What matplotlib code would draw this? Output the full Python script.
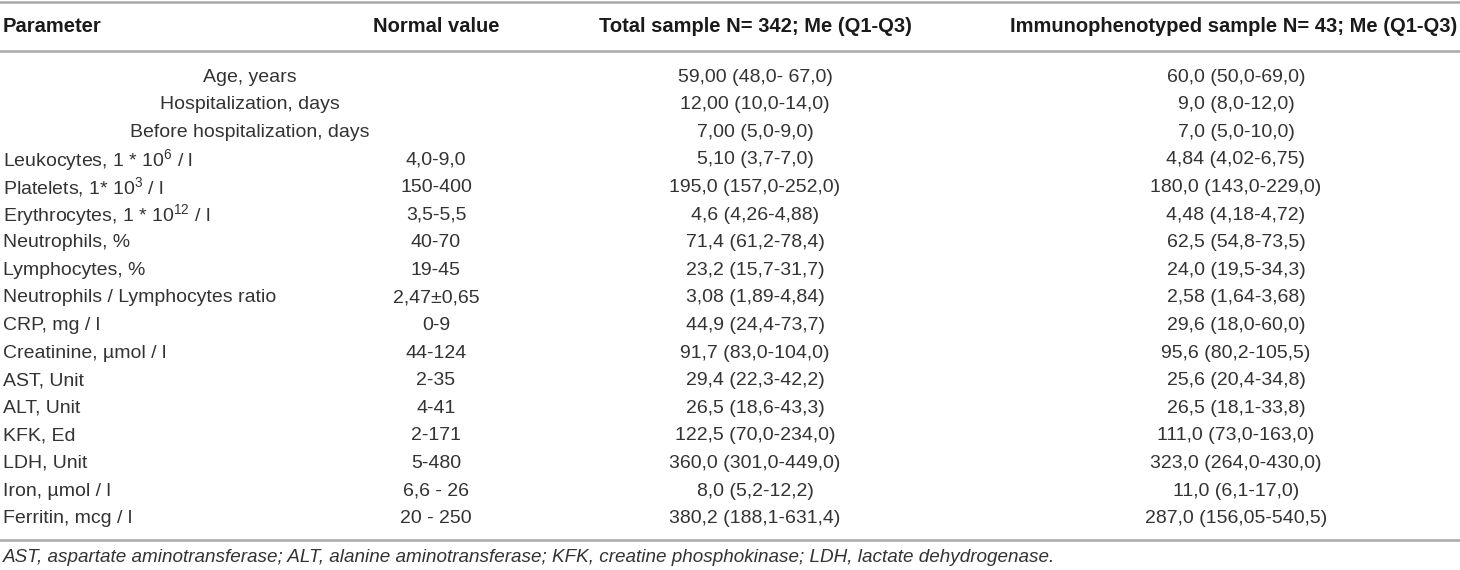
import matplotlib
matplotlib.use("Agg")
import matplotlib.pyplot as plt

plt.rcParams['font.family'] = ['Liberation Sans', 'DejaVu Sans']
plt.rcParams['mathtext.fontset'] = 'custom'
plt.rcParams['mathtext.rm'] = 'Liberation Sans'
plt.rcParams['mathtext.default'] = 'regular'

# table data
headers = ['Parameter', 'Normal value', 'Total sample N= 342; Me (Q1-Q3)',
           'Immunophenotyped sample N= 43; Me (Q1-Q3)']

parameters = ['Age, years', 'Hospitalization, days', 'Before hospitalization, days',
              'Leukocytes, 1 * 10$^{6}$ / l', 'Platelets, 1* 10$^{3}$ / l',
              'Erythrocytes, 1 * 10$^{12}$ / l', 'Neutrophils, %', 'Lymphocytes, %',
              'Neutrophils / Lymphocytes ratio', 'CRP, mg / l', 'Creatinine, µmol / l',
              'AST, Unit', 'ALT, Unit', 'KFK, Ed', 'LDH, Unit', 'Iron, µmol / l',
              'Ferritin, mcg / l']

normal_values = ['', '', '', '4,0-9,0', '150-400', '3,5-5,5', '40-70', '19-45',
                 '2,47±0,65', '0-9', '44-124', '2-35', '4-41', '2-171', '5-480',
                 '6,6 - 26', '20 - 250']

total_sample = ['59,00 (48,0- 67,0)', '12,00 (10,0-14,0)', '7,00 (5,0-9,0)',
                '5,10 (3,7-7,0)', '195,0 (157,0-252,0)', '4,6 (4,26-4,88)',
                '71,4 (61,2-78,4)', '23,2 (15,7-31,7)', '3,08 (1,89-4,84)',
                '44,9 (24,4-73,7)', '91,7 (83,0-104,0)', '29,4 (22,3-42,2)',
                '26,5 (18,6-43,3)', '122,5 (70,0-234,0)', '360,0 (301,0-449,0)',
                '8,0 (5,2-12,2)', '380,2 (188,1-631,4)']

immuno_sample = ['60,0 (50,0-69,0)', '9,0 (8,0-12,0)', '7,0 (5,0-10,0)',
                 '4,84 (4,02-6,75)', '180,0 (143,0-229,0)', '4,48 (4,18-4,72)',
                 '62,5 (54,8-73,5)', '24,0 (19,5-34,3)', '2,58 (1,64-3,68)',
                 '29,6 (18,0-60,0)', '95,6 (80,2-105,5)', '25,6 (20,4-34,8)',
                 '26,5 (18,1-33,8)', '111,0 (73,0-163,0)', '323,0 (264,0-430,0)',
                 '11,0 (6,1-17,0)', '287,0 (156,05-540,5)']

footnote = ('AST, aspartate aminotransferase; ALT, alanine aminotransferase; '
            'KFK, creatine phosphokinase; LDH, lactate dehydrogenase.')

# number of leading rows whose label is centred under the first two columns
n_centered = 3

W, H = 1460, 570
fig = plt.figure(figsize=(W / 100, H / 100), dpi=100)
ax = fig.add_axes([0, 0, 1, 1])
ax.set_xlim(0, W)
ax.set_ylim(H, 0)
ax.axis('off')

txt_color = '#333333'
head_color = '#1a1a1a'
line_color = '#a8a8a8'
fs = 14
head_fs = 14.5

col_x = [3, 436, 755, 1236]
head_x = [3, 436, 755, 1234]
header_y = 26
row0_y = 77
row_step = 27.6

# rules
for y in [1.5, 51, 540]:
    ax.axhline(y, color=line_color, lw=1.8)

# header
ax.text(head_x[0], header_y, headers[0], ha='left', va='center', fontsize=head_fs,
        fontweight='bold', color=head_color)
for x, h in zip(head_x[1:], headers[1:]):
    ax.text(x, header_y, h, ha='center', va='center', fontsize=head_fs,
            fontweight='bold', color=head_color)

# body rows
for i, (p, nv, ts, im) in enumerate(zip(parameters, normal_values, total_sample, immuno_sample)):
    y = row0_y + i * row_step
    if i < n_centered:
        ax.text(250, y, p, ha='center', va='center', fontsize=fs, color=txt_color)
    else:
        ax.text(col_x[0], y, p, ha='left', va='center', fontsize=fs, color=txt_color)
    ax.text(col_x[1], y, nv, ha='center', va='center', fontsize=fs, color=txt_color)
    ax.text(col_x[2], y, ts, ha='center', va='center', fontsize=fs, color=txt_color)
    ax.text(col_x[3], y, im, ha='center', va='center', fontsize=fs, color=txt_color)

ax.text(col_x[0], 558, footnote, ha='left', va='center', fontsize=13.6,
        style='italic', color=txt_color)

fig.savefig('out.png', dpi=100)
